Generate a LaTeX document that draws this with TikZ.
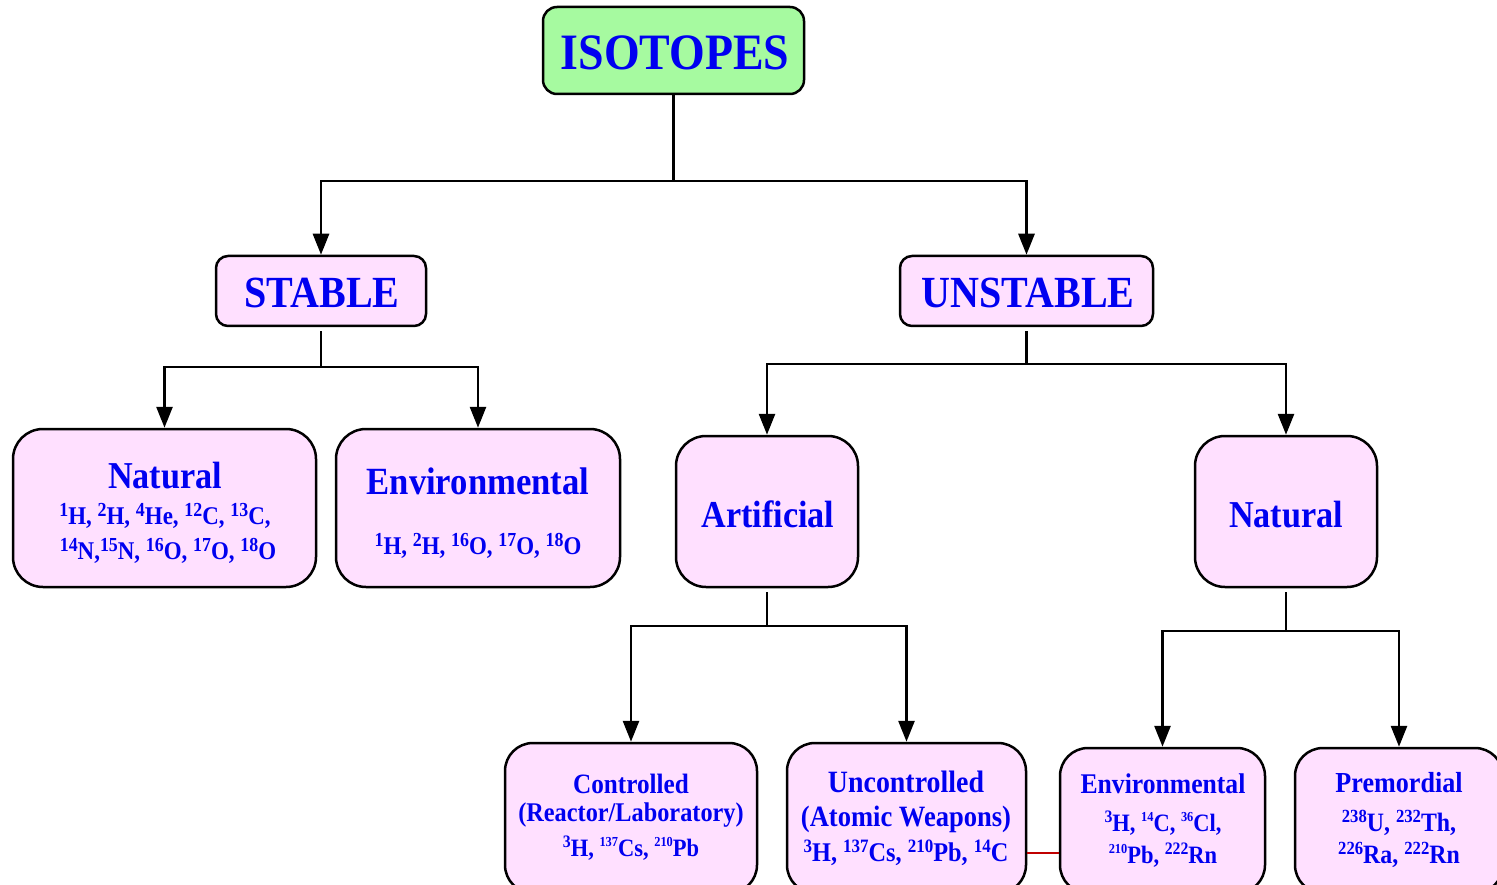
\documentclass[tikz,border=0pt]{standalone}
\usepackage{fontspec}
\setmainfont{Liberation Serif}[FakeStretch=0.9]
\usetikzlibrary{arrows.meta}
\definecolor{boxpink}{HTML}{FFE0FF}
\definecolor{boxgreen}{HTML}{A6FAA0}
\definecolor{txtblue}{HTML}{0000F0}
\definecolor{linkred}{HTML}{C00000}
\newcommand\sups[1]{\raisebox{0.33em}{\scalebox{0.7}{#1}}}
\newcommand\supl[1]{\raisebox{0.3em}{\scalebox{0.78}{#1}}}
\newcommand\supsm[1]{\raisebox{0.38em}{\scalebox{0.55}{#1}}}
\newcommand\tb[1]{\bfseries\fontsize{#1}{#1}\selectfont}
\begin{document}
\begin{tikzpicture}[x=1pt,y=-1pt,
  box/.style={draw=black, line width=2.5pt, fill=boxpink, rounded corners=#1, inner sep=0pt},
  box/.default=30pt,
  lbl/.style={anchor=base, text=txtblue, inner sep=0pt},
  link/.style={line width=2.8pt, draw=black},
  arr/.style={link, -{Triangle[length=21pt,width=16pt]}},
  stem/.style={link, shorten <=4pt}]
\useasboundingbox (0,0) rectangle (1497,885);

% boxes
\node[box=14pt, fill=boxgreen, minimum width=261pt, minimum height=87pt] (iso) at (673.5,50.5) {};
\node[box=12pt, minimum width=210pt, minimum height=70pt] (stable) at (321,291) {};
\node[box=12pt, minimum width=253pt, minimum height=70pt] (unstable) at (1026.5,291) {};
\node[box, minimum width=303pt, minimum height=158pt] (natS) at (164.5,508) {};
\node[box, minimum width=284pt, minimum height=158pt] (envS) at (478,508) {};
\node[box, minimum width=182pt, minimum height=151pt] (art) at (767,511.5) {};
\node[box, minimum width=182pt, minimum height=151pt] (natU) at (1286,511.5) {};
\node[box=28pt, minimum width=252pt, minimum height=150pt] (ctrl) at (631,818) {};
\node[box=28pt, minimum width=239pt, minimum height=150pt] (unc) at (906.5,818) {};
\node[box=28pt, minimum width=205pt, minimum height=145pt] (envU) at (1162.5,820.5) {};
\node[box=28pt, minimum width=208pt, minimum height=145pt] (prem) at (1399,820.5) {};

% texts
\node[lbl, font=\tb{51}] (isoT) at (675,70) {ISOTOPES};
\node[lbl, font=\tb{44.5}] (stableT) at (322,308) {STABLE};
\node[lbl, font=\tb{44.5}] (unstableT) at (1028,308) {UNSTABLE};
\node[lbl, font=\tb{38}] (natST) at (165,488) {Natural};
\node[lbl, font=\tb{25.5}] (natS1) at (165,524) {\supl{1}H, \supl{2}H, \supl{4}He, \supl{12}C, \supl{13}C,};
\node[lbl, font=\tb{25.5}] (natS2) at (168,559) {\supl{14}N,\supl{15}N, \supl{16}O, \supl{17}O, \supl{18}O};
\node[lbl, font=\tb{38.5}] (envST) at (478,494) {Environmental};
\node[lbl, font=\tb{25.5}] (envS1) at (478,554) {\supl{1}H, \supl{2}H, \supl{16}O, \supl{17}O, \supl{18}O};
\node[lbl, font=\tb{38}] (artT) at (768,527) {Artificial};
\node[lbl, font=\tb{38}] (natUT) at (1286,527) {Natural};
\node[lbl, font=\tb{28}] (ctrlT) at (631,793) {Controlled};
\node[lbl, font=\tb{27}] (ctrl1) at (631,821) {(Reactor/Laboratory)};
\node[lbl, font=\tb{25}] (ctrl2) at (631,856) {\sups{3}H, \supsm{137}Cs, \supsm{210}Pb};
\node[lbl, font=\tb{31}] (uncT) at (906,792) {Uncontrolled};
\node[lbl, font=\tb{29.5}] (unc1) at (906,826) {(Atomic Weapons)};
\node[lbl, font=\tb{27}] (unc2) at (906,861) {\sups{3}H, \sups{137}Cs, \sups{210}Pb, \sups{14}C};
\node[lbl, font=\tb{28.5}] (envUT) at (1163,793) {Environmental};
\node[lbl, font=\tb{25}] (envU1) at (1163,831) {\sups{3}H, \supsm{14}C, \supsm{36}Cl,};
\node[lbl, font=\tb{25}] (envU2) at (1163,863) {\supsm{210}Pb, \sups{222}Rn};
\node[lbl, font=\tb{29}] (premT) at (1399,792) {Premordial};
\node[lbl, font=\tb{26.5}] (prem1) at (1399,831) {\sups{238}U, \sups{232}Th,};
\node[lbl, font=\tb{26.5}] (prem2) at (1399,863) {\sups{226}Ra, \sups{222}Rn};

% junctions
\coordinate (j1) at (iso.south |- 0,181);
\coordinate (j2) at (stable.south |- 0,367);
\coordinate (j3) at (unstable.south |- 0,364);
\coordinate (j4) at (art.south |- 0,626);
\coordinate (j5) at (natU.south |- 0,631);

% connectors
\draw[link] (iso.south) -- (j1);
\draw[arr] (j1) -| (stable.north);
\draw[arr] (j1) -| (unstable.north);
\draw[stem] (stable.south) -- (j2);
\draw[arr] (j2) -| (natS.north);
\draw[arr] (j2) -| (envS.north);
\draw[stem] (unstable.south) -- (j3);
\draw[arr] (j3) -| (art.north);
\draw[arr] (j3) -| (natU.north);
\draw[stem] (art.south) -- (j4);
\draw[arr] (j4) -| (ctrl.north);
\draw[arr] (j4) -| (unc.north);
\draw[stem] (natU.south) -- (j5);
\draw[arr] (j5) -| (envU.north);
\draw[arr] (j5) -| (prem.north);
\draw[linkred, line width=1.5pt] ([yshift=-35pt]unc.east) -- ([yshift=-32.5pt]envU.west);
\end{tikzpicture}
\end{document}
